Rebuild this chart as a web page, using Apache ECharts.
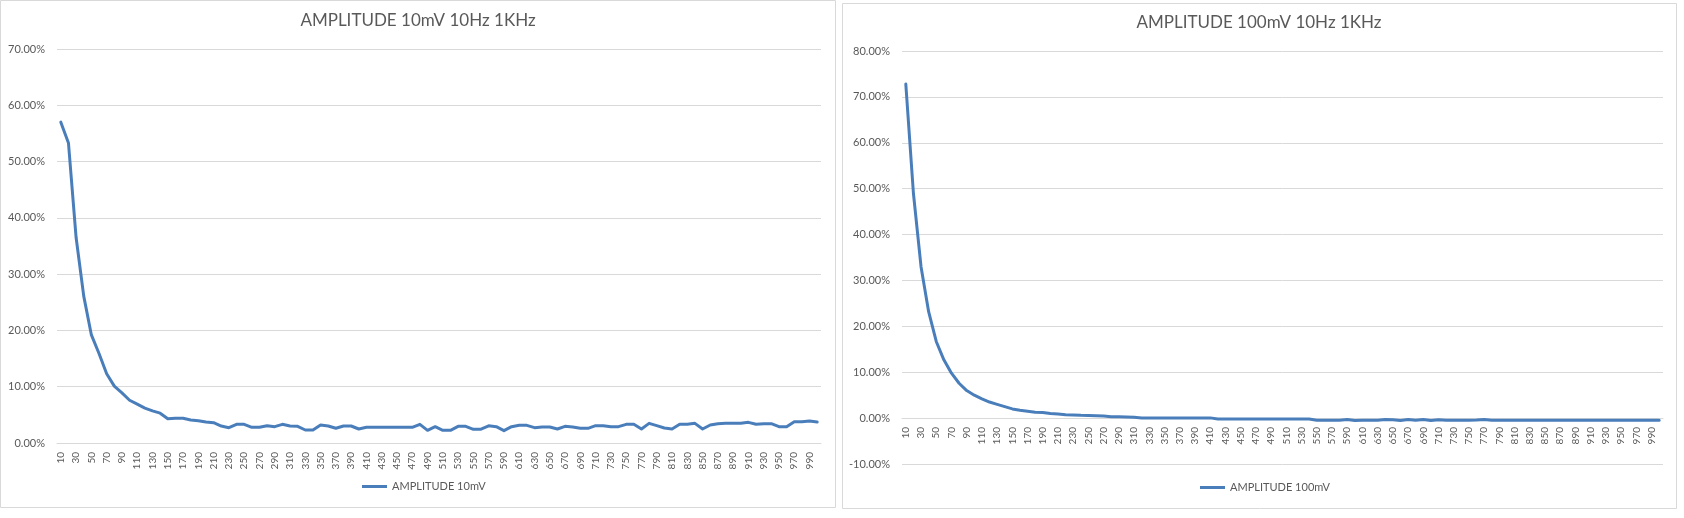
<!DOCTYPE html>
<html>
<head>
<meta charset="utf-8">
<script src="https://cdn.jsdelivr.net/npm/echarts@6/dist/echarts.min.js"></script>
<style>
html,body{margin:0;padding:0;background:#fff;}
#c{width:1684px;height:518px;}
</style>
</head>
<body>
<div id="c"></div>
<script>
// Frequency categories (Hz)
var categories = [10,20,30,40,50,60,70,80,90,100,110,120,130,140,150,160,170,180,190,200,
210,220,230,240,250,260,270,280,290,300,310,320,330,340,350,360,370,380,390,400,
410,420,430,440,450,460,470,480,490,500,510,520,530,540,550,560,570,580,590,600,
610,620,630,640,650,660,670,680,690,700,710,720,730,740,750,760,770,780,790,800,
810,820,830,840,850,860,870,880,890,900,910,920,930,940,950,960,970,980,990,1000];

// AMPLITUDE 10mV (percent)
var amp10mV = [57.0,53.3,36.5,26.1,19.2,15.9,12.3,10.1,8.9,7.6,
6.9,6.2,5.7,5.3,4.3,4.4,4.4,4.1,3.97,3.73,
3.61,3.02,2.72,3.32,3.32,2.79,2.79,3.08,2.90,3.32,
3.02,2.96,2.31,2.31,3.20,3.02,2.61,3.02,3.02,2.49,
2.79,2.79,2.79,2.79,2.79,2.79,2.79,3.32,2.25,2.90,
2.25,2.25,2.96,2.96,2.43,2.46,3.05,2.90,2.19,2.90,
3.14,3.14,2.72,2.84,2.84,2.49,2.96,2.84,2.61,2.61,
3.08,3.08,2.90,2.90,3.32,3.32,2.49,3.49,3.08,2.66,
2.49,3.32,3.32,3.49,2.49,3.20,3.43,3.49,3.49,3.49,
3.67,3.32,3.43,3.43,2.90,2.90,3.79,3.79,3.91,3.73];

// AMPLITUDE 100mV (percent)
var amp100mV = [72.8,49.0,33.0,23.2,16.7,12.7,9.8,7.6,6.0,5.0,
4.2,3.5,3.0,2.5,2.0,1.7,1.5,1.3,1.2,1.0,
0.9,0.75,0.7,0.6,0.55,0.5,0.45,0.3,0.3,0.25,
0.2,0.05,0.05,0.05,0.05,0.05,0.05,0.05,0.05,0.05,
0.05,-0.2,-0.2,-0.2,-0.2,-0.2,-0.2,-0.2,-0.2,-0.2,
-0.2,-0.2,-0.2,-0.2,-0.45,-0.45,-0.45,-0.45,-0.3,-0.5,
-0.45,-0.45,-0.45,-0.3,-0.35,-0.5,-0.3,-0.45,-0.3,-0.5,
-0.35,-0.45,-0.45,-0.45,-0.45,-0.4,-0.3,-0.45,-0.45,-0.45,
-0.45,-0.45,-0.45,-0.45,-0.45,-0.45,-0.45,-0.45,-0.45,-0.45,
-0.45,-0.45,-0.45,-0.45,-0.45,-0.45,-0.45,-0.45,-0.45,-0.45];

var titles = ['AMPLITUDE 10mV 10Hz 1KHz', 'AMPLITUDE 100mV 10Hz 1KHz'];
var seriesNames = ['AMPLITUDE 10mV', 'AMPLITUDE 100mV'];

var FONT = 'Lato';
var TXT = '#595959';
var GRID = '#d9d9d9';
var BLUE = '#4a7ebb';

function pct(v){ return v.toFixed(2) + '%'; }

function xAxisOpt(gi, off){
  return {
    type:'category', gridIndex:gi, data:categories, boundaryGap:true,
    position:'bottom', offset:off,
    axisTick:{show:false},
    axisLine:{show:true, onZero:false, lineStyle:{color:GRID, width:1}},
    axisLabel:{interval:1, rotate:90, color:TXT, fontFamily:FONT, fontSize:10, margin:9}
  };
}
function yAxisOpt(gi, mn, mx){
  return {
    type:'value', gridIndex:gi, min:mn, max:mx, interval:10,
    axisLine:{show:false}, axisTick:{show:false},
    splitLine:{lineStyle:{color:GRID, width:1}},
    axisLabel:{formatter:pct, color:TXT, fontFamily:FONT, fontSize:11, margin:12}
  };
}

var chart = echarts.init(document.getElementById('c'), null, {renderer:'canvas'});
chart.setOption({
  backgroundColor:'#fff',
  animation:false,
  graphic:[
    {type:'rect', shape:{x:0.5,y:0.5,width:835,height:507}, style:{fill:'none', stroke:GRID, lineWidth:1}, silent:true},
    {type:'rect', shape:{x:842.5,y:3.5,width:834,height:505}, style:{fill:'none', stroke:GRID, lineWidth:1}, silent:true}
  ],
  title:[
    {text:titles[0], left:418, top:12, textAlign:'center', padding:0,
     textStyle:{color:TXT, fontFamily:FONT, fontSize:17, fontWeight:'normal'}},
    {text:titles[1], left:1259, top:14, textAlign:'center', padding:0,
     textStyle:{color:TXT, fontFamily:FONT, fontSize:17, fontWeight:'normal'}}
  ],
  legend:[
    {data:[seriesNames[0]], left:362, top:481, padding:0, icon:'rect', itemWidth:25, itemHeight:3, itemGap:4,
     textStyle:{color:TXT, fontFamily:FONT, fontSize:11}},
    {data:[seriesNames[1]], left:1200, top:482, padding:0, icon:'rect', itemWidth:25, itemHeight:3, itemGap:4,
     textStyle:{color:TXT, fontFamily:FONT, fontSize:11}}
  ],
  grid:[
    {left:57, top:49, width:764, height:394},
    {left:902, top:51, width:761, height:413}
  ],
  xAxis:[xAxisOpt(0, 0), xAxisOpt(1, -46)],
  yAxis:[yAxisOpt(0, 0, 70), yAxisOpt(1, -10, 80)],
  series:[
    {name:seriesNames[0], type:'line', xAxisIndex:0, yAxisIndex:0, data:amp10mV,
     symbol:'none', smooth:false, color:BLUE,
     lineStyle:{color:BLUE, width:3, join:'round', cap:'round'}},
    {name:seriesNames[1], type:'line', xAxisIndex:1, yAxisIndex:1, data:amp100mV,
     symbol:'none', smooth:false, color:BLUE,
     lineStyle:{color:BLUE, width:3, join:'round', cap:'round'}}
  ]
});
</script>
</body>
</html>
